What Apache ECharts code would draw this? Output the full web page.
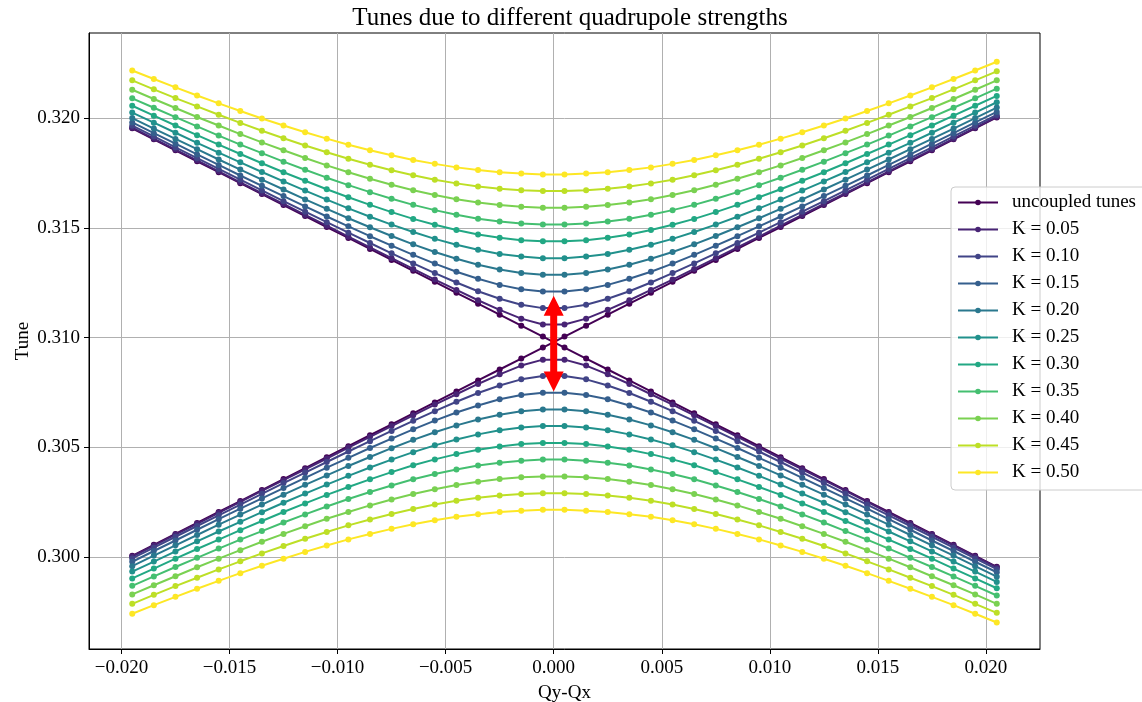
<!DOCTYPE html>
<html>
<head>
<meta charset="utf-8">
<script src="https://cdn.jsdelivr.net/npm/echarts@6/dist/echarts.min.js"></script>
<style>html,body{margin:0;padding:0;background:#fff;}#chart{width:1142px;height:702px;}</style>
</head>
<body>
<div id="chart"></div>
<script>
const xTicks = [-0.02, -0.015, -0.01, -0.005, 0, 0.005, 0.01, 0.015, 0.02];
const yTicks = [0.300, 0.305, 0.310, 0.315, 0.320];
const qyMinusQx = [-0.0195,-0.0185,-0.0175,-0.0165,-0.0155,-0.0145,-0.0135,-0.0125,-0.0115,-0.0105,-0.0095,-0.0085,-0.0075,-0.0065,-0.0055,-0.0045,-0.0035,-0.0025,-0.0015,-0.0005,0.0005,0.0015,0.0025,0.0035,0.0045,0.0055,0.0065,0.0075,0.0085,0.0095,0.0105,0.0115,0.0125,0.0135,0.0145,0.0155,0.0165,0.0175,0.0185,0.0195,0.0205];

const uncoupledA = [0.31955,0.31905,0.31855,0.31805,0.31755,0.31705,0.31655,0.31605,0.31555,0.31505,0.31455,0.31405,0.31355,0.31305,0.31255,0.31205,0.31155,0.31105,0.31055,0.31005,0.30955,0.30905,0.30855,0.30805,0.30755,0.30705,0.30655,0.30605,0.30555,0.30505,0.30455,0.30405,0.30355,0.30305,0.30255,0.30205,0.30155,0.30105,0.30055,0.30005,0.29955];
const uncoupledB = [0.30005,0.30055,0.30105,0.30155,0.30205,0.30255,0.30305,0.30355,0.30405,0.30455,0.30505,0.30555,0.30605,0.30655,0.30705,0.30755,0.30805,0.30855,0.30905,0.30955,0.31005,0.31055,0.31105,0.31155,0.31205,0.31255,0.31305,0.31355,0.31405,0.31455,0.31505,0.31555,0.31605,0.31655,0.31705,0.31755,0.31805,0.31855,0.31905,0.31955,0.32005];

const k05Upper = [0.31958,0.31908,0.31858,0.31809,0.31759,0.31709,0.31659,0.31610,0.31560,0.31511,0.31461,0.31412,0.31363,0.31314,0.31265,0.31218,0.31171,0.31127,0.31087,0.31060,0.31060,0.31087,0.31127,0.31171,0.31218,0.31265,0.31314,0.31363,0.31412,0.31461,0.31511,0.31560,0.31610,0.31659,0.31709,0.31759,0.31809,0.31858,0.31908,0.31958,0.32008];
const k05Lower = [0.30002,0.30052,0.30102,0.30151,0.30201,0.30251,0.30301,0.30350,0.30400,0.30449,0.30499,0.30548,0.30597,0.30646,0.30695,0.30742,0.30789,0.30833,0.30873,0.30900,0.30900,0.30873,0.30833,0.30789,0.30742,0.30695,0.30646,0.30597,0.30548,0.30499,0.30449,0.30400,0.30350,0.30301,0.30251,0.30201,0.30151,0.30102,0.30052,0.30002,0.29952];
const k10Upper = [0.31967,0.31918,0.31868,0.31819,0.31770,0.31721,0.31672,0.31623,0.31575,0.31527,0.31479,0.31432,0.31385,0.31339,0.31295,0.31252,0.31212,0.31178,0.31150,0.31135,0.31135,0.31150,0.31178,0.31212,0.31252,0.31295,0.31339,0.31385,0.31432,0.31479,0.31527,0.31575,0.31623,0.31672,0.31721,0.31770,0.31819,0.31868,0.31918,0.31967,0.32016];
const k10Lower = [0.29993,0.30042,0.30092,0.30141,0.30190,0.30239,0.30288,0.30337,0.30385,0.30433,0.30481,0.30528,0.30575,0.30621,0.30665,0.30708,0.30748,0.30782,0.30810,0.30825,0.30825,0.30810,0.30782,0.30748,0.30708,0.30665,0.30621,0.30575,0.30528,0.30481,0.30433,0.30385,0.30337,0.30288,0.30239,0.30190,0.30141,0.30092,0.30042,0.29993,0.29944];
const k15Upper = [0.31982,0.31933,0.31885,0.31836,0.31788,0.31740,0.31693,0.31646,0.31599,0.31553,0.31508,0.31463,0.31420,0.31378,0.31338,0.31301,0.31269,0.31241,0.31221,0.31211,0.31211,0.31221,0.31241,0.31269,0.31301,0.31338,0.31378,0.31420,0.31463,0.31508,0.31553,0.31599,0.31646,0.31693,0.31740,0.31788,0.31836,0.31885,0.31933,0.31982,0.32030];
const k15Lower = [0.29978,0.30027,0.30075,0.30124,0.30172,0.30220,0.30267,0.30314,0.30361,0.30407,0.30452,0.30497,0.30540,0.30582,0.30622,0.30659,0.30691,0.30719,0.30739,0.30749,0.30749,0.30739,0.30719,0.30691,0.30659,0.30622,0.30582,0.30540,0.30497,0.30452,0.30407,0.30361,0.30314,0.30267,0.30220,0.30172,0.30124,0.30075,0.30027,0.29978,0.29930];
const k20Upper = [0.32002,0.31954,0.31907,0.31860,0.31813,0.31767,0.31721,0.31676,0.31631,0.31588,0.31545,0.31504,0.31464,0.31426,0.31391,0.31360,0.31333,0.31311,0.31295,0.31287,0.31287,0.31295,0.31311,0.31333,0.31360,0.31391,0.31426,0.31464,0.31504,0.31545,0.31588,0.31631,0.31676,0.31721,0.31767,0.31813,0.31860,0.31907,0.31954,0.32002,0.32050];
const k20Lower = [0.29958,0.30006,0.30053,0.30100,0.30147,0.30193,0.30239,0.30284,0.30329,0.30372,0.30415,0.30456,0.30496,0.30534,0.30569,0.30600,0.30627,0.30649,0.30665,0.30673,0.30673,0.30665,0.30649,0.30627,0.30600,0.30569,0.30534,0.30496,0.30456,0.30415,0.30372,0.30329,0.30284,0.30239,0.30193,0.30147,0.30100,0.30053,0.30006,0.29958,0.29910];
const k25Upper = [0.32027,0.31981,0.31935,0.31889,0.31844,0.31800,0.31756,0.31713,0.31671,0.31630,0.31590,0.31552,0.31516,0.31482,0.31451,0.31424,0.31401,0.31382,0.31370,0.31363,0.31363,0.31370,0.31382,0.31401,0.31424,0.31451,0.31482,0.31516,0.31552,0.31590,0.31630,0.31671,0.31713,0.31756,0.31800,0.31844,0.31889,0.31935,0.31981,0.32027,0.32074];
const k25Lower = [0.29933,0.29979,0.30025,0.30071,0.30116,0.30160,0.30204,0.30247,0.30289,0.30330,0.30370,0.30408,0.30444,0.30478,0.30509,0.30536,0.30559,0.30578,0.30590,0.30597,0.30597,0.30590,0.30578,0.30559,0.30536,0.30509,0.30478,0.30444,0.30408,0.30370,0.30330,0.30289,0.30247,0.30204,0.30160,0.30116,0.30071,0.30025,0.29979,0.29933,0.29886];
const k30Upper = [0.32058,0.32013,0.31968,0.31924,0.31881,0.31838,0.31796,0.31755,0.31716,0.31677,0.31641,0.31606,0.31573,0.31542,0.31515,0.31491,0.31471,0.31456,0.31445,0.31440,0.31440,0.31445,0.31456,0.31471,0.31491,0.31515,0.31542,0.31573,0.31606,0.31641,0.31677,0.31716,0.31755,0.31796,0.31838,0.31881,0.31924,0.31968,0.32013,0.32058,0.32103];
const k30Lower = [0.29902,0.29947,0.29992,0.30036,0.30079,0.30122,0.30164,0.30205,0.30244,0.30283,0.30319,0.30354,0.30387,0.30418,0.30445,0.30469,0.30489,0.30504,0.30515,0.30520,0.30520,0.30515,0.30504,0.30489,0.30469,0.30445,0.30418,0.30387,0.30354,0.30319,0.30283,0.30244,0.30205,0.30164,0.30122,0.30079,0.30036,0.29992,0.29947,0.29902,0.29857];
const k35Upper = [0.32092,0.32049,0.32006,0.31964,0.31922,0.31881,0.31842,0.31803,0.31766,0.31730,0.31696,0.31664,0.31634,0.31606,0.31582,0.31561,0.31543,0.31530,0.31521,0.31516,0.31516,0.31521,0.31530,0.31543,0.31561,0.31582,0.31606,0.31634,0.31664,0.31696,0.31730,0.31766,0.31803,0.31842,0.31881,0.31922,0.31964,0.32006,0.32049,0.32092,0.32136];
const k35Lower = [0.29868,0.29911,0.29954,0.29996,0.30038,0.30079,0.30118,0.30157,0.30194,0.30230,0.30264,0.30296,0.30326,0.30354,0.30378,0.30399,0.30417,0.30430,0.30439,0.30444,0.30444,0.30439,0.30430,0.30417,0.30399,0.30378,0.30354,0.30326,0.30296,0.30264,0.30230,0.30194,0.30157,0.30118,0.30079,0.30038,0.29996,0.29954,0.29911,0.29868,0.29824];
const k40Upper = [0.32131,0.32089,0.32048,0.32007,0.31968,0.31929,0.31891,0.31855,0.31820,0.31786,0.31755,0.31725,0.31698,0.31673,0.31651,0.31632,0.31617,0.31605,0.31597,0.31593,0.31593,0.31597,0.31605,0.31617,0.31632,0.31651,0.31673,0.31698,0.31725,0.31755,0.31786,0.31820,0.31855,0.31891,0.31929,0.31968,0.32007,0.32048,0.32089,0.32131,0.32174];
const k40Lower = [0.29829,0.29871,0.29912,0.29953,0.29992,0.30031,0.30069,0.30105,0.30140,0.30174,0.30205,0.30235,0.30262,0.30287,0.30309,0.30328,0.30343,0.30355,0.30363,0.30367,0.30367,0.30363,0.30355,0.30343,0.30328,0.30309,0.30287,0.30262,0.30235,0.30205,0.30174,0.30140,0.30105,0.30069,0.30031,0.29992,0.29953,0.29912,0.29871,0.29829,0.29786];
const k45Upper = [0.32174,0.32133,0.32093,0.32055,0.32017,0.31980,0.31944,0.31910,0.31877,0.31846,0.31816,0.31789,0.31764,0.31741,0.31721,0.31704,0.31690,0.31680,0.31673,0.31669,0.31669,0.31673,0.31680,0.31690,0.31704,0.31721,0.31741,0.31764,0.31789,0.31816,0.31846,0.31877,0.31910,0.31944,0.31980,0.32017,0.32055,0.32093,0.32133,0.32174,0.32215];
const k45Lower = [0.29786,0.29827,0.29867,0.29905,0.29943,0.29980,0.30016,0.30050,0.30083,0.30114,0.30144,0.30171,0.30196,0.30219,0.30239,0.30256,0.30270,0.30280,0.30287,0.30291,0.30291,0.30287,0.30280,0.30270,0.30256,0.30239,0.30219,0.30196,0.30171,0.30144,0.30114,0.30083,0.30050,0.30016,0.29980,0.29943,0.29905,0.29867,0.29827,0.29786,0.29745];
const k50Upper = [0.32219,0.32180,0.32142,0.32105,0.32069,0.32034,0.32000,0.31968,0.31937,0.31908,0.31880,0.31855,0.31832,0.31811,0.31793,0.31777,0.31765,0.31755,0.31749,0.31745,0.31745,0.31749,0.31755,0.31765,0.31777,0.31793,0.31811,0.31832,0.31855,0.31880,0.31908,0.31937,0.31968,0.32000,0.32034,0.32069,0.32105,0.32142,0.32180,0.32219,0.32259];
const k50Lower = [0.29741,0.29780,0.29818,0.29855,0.29891,0.29926,0.29960,0.29992,0.30023,0.30052,0.30080,0.30105,0.30128,0.30149,0.30167,0.30183,0.30195,0.30205,0.30211,0.30215,0.30215,0.30211,0.30205,0.30195,0.30183,0.30167,0.30149,0.30128,0.30105,0.30080,0.30052,0.30023,0.29992,0.29960,0.29926,0.29891,0.29855,0.29818,0.29780,0.29741,0.29701];

const seriesNames = ['uncoupled tunes','K = 0.05','K = 0.10','K = 0.15','K = 0.20','K = 0.25','K = 0.30','K = 0.35','K = 0.40','K = 0.45','K = 0.50'];
const seriesColors = ['#440154','#482475','#414487','#355f8d','#2a788e','#21918c','#22a884','#44bf70','#7ad151','#bddf26','#fde725'];
const branchPairs = [
  [uncoupledA, uncoupledB],[k05Upper,k05Lower],[k10Upper,k10Lower],[k15Upper,k15Lower],[k20Upper,k20Lower],
  [k25Upper,k25Lower],[k30Upper,k30Lower],[k35Upper,k35Lower],[k40Upper,k40Lower],[k45Upper,k45Lower],[k50Upper,k50Lower]
];
// red double arrow at Qy-Qx = 0: [x, lowTip, highTip]
const arrowData = [[0.0, 0.30755, 0.31191]];

const FONT = 'Liberation Serif';
const fmt = v => { const a = Math.abs(v) < 1e-12 ? 0 : v; return (a < 0 ? '\u2212' : '') + Math.abs(a).toFixed(3); };

const series = [];
branchPairs.forEach((pair, i) => {
  pair.forEach(arr => {
    series.push({
      type: 'line', name: seriesNames[i],
      data: qyMinusQx.map((x, j) => [x, arr[j]]),
      symbol: 'circle', symbolSize: 6, showSymbol: true, showAllSymbol: true,
      lineStyle: { width: 2, color: seriesColors[i] },
      itemStyle: { color: seriesColors[i] },
      emphasis: { disabled: true },
      z: 2 + i
    });
  });
});
series.push({
  type: 'custom', name: 'arrow', z: 50,
  data: arrowData,
  encode: { x: 0, y: [1, 2] },
  renderItem: (params, api) => {
    const x = api.value(0);
    const lo = api.coord([x, api.value(1)]);
    const hi = api.coord([x, api.value(2)]);
    const cx = lo[0], yt = hi[1], yb = lo[1];
    const hw = 10, hl = 20, sw = 3.5;
    const pts = [[cx, yt],[cx+hw, yt+hl],[cx+sw, yt+hl],[cx+sw, yb-hl],[cx+hw, yb-hl],[cx, yb],[cx-hw, yb-hl],[cx-sw, yb-hl],[cx-sw, yt+hl],[cx-hw, yt+hl]];
    return { type: 'polygon', shape: { points: pts }, style: { fill: '#ff0000' } };
  }
});

const chart = echarts.init(document.getElementById('chart'), null, { renderer: 'canvas' });
chart.setOption({
  animation: false,
  backgroundColor: '#ffffff',
  title: {
    text: 'Tunes due to different quadrupole strengths',
    left: 565, top: 1, textAlign: 'center',
    textStyle: { fontFamily: FONT, fontSize: 25, fontWeight: 'normal', color: '#000' }
  },
  grid: { left: 89, right: 102, top: 33, bottom: 53, containLabel: false, outerBoundsMode: 'none',
          show: true, borderColor: '#000', borderWidth: 1, backgroundColor: 'transparent' },
  legend: {
    data: seriesNames, orient: 'vertical', left: 951, top: 187,
    itemWidth: 40, itemHeight: 7, itemGap: 8,
    padding: [6, 20, 8, 6],
    backgroundColor: 'rgba(255,255,255,0.8)', borderColor: '#cccccc', borderWidth: 1, borderRadius: 4,
    textStyle: { fontFamily: FONT, fontSize: 19, color: '#000', padding: [0, 0, 0, 9], lineHeight: 18 },
    selectedMode: false
  },
  xAxis: {
    type: 'value', min: -0.0215, max: 0.0225,
    name: 'Qy-Qx', nameLocation: 'middle', nameGap: 35, nameMoveOverlap: false,
    nameTextStyle: { fontFamily: FONT, fontSize: 19, color: '#000' },
    axisLine: { show: true, onZero: false, lineStyle: { color: '#000', width: 1 } },
    axisTick: { show: true, customValues: xTicks, length: 5, lineStyle: { color: '#000' } },
    axisLabel: { customValues: xTicks, formatter: fmt, fontFamily: FONT, fontSize: 19, color: '#000', margin: 10 },
    splitLine: { show: true, lineStyle: { color: '#b0b0b0', width: 1 } }
  },
  yAxis: {
    type: 'value', min: 0.2958, max: 0.3239,
    name: 'Tune', nameLocation: 'middle', nameGap: 56, nameMoveOverlap: false,
    nameTextStyle: { fontFamily: FONT, fontSize: 19, color: '#000' },
    axisLine: { show: true, onZero: false, lineStyle: { color: '#000', width: 1 } },
    axisTick: { show: true, customValues: yTicks, length: 5, lineStyle: { color: '#000' } },
    axisLabel: { customValues: yTicks, formatter: fmt, fontFamily: FONT, fontSize: 19, color: '#000', margin: 9 },
    splitLine: { show: true, lineStyle: { color: '#b0b0b0', width: 1 } }
  },
  series: series
});
</script>
</body>
</html>
